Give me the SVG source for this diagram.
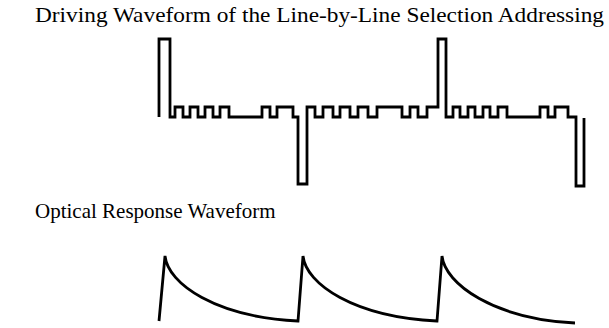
<svg xmlns="http://www.w3.org/2000/svg" width="609" height="328" viewBox="0 0 609 328">
<style>
.t{font-family:"Liberation Serif","Times New Roman",serif;font-size:21px;fill:#000}
.w{fill:none;stroke:#000;stroke-width:2.8;stroke-linejoin:miter;stroke-linecap:butt}
</style>
<rect width="609" height="328" fill="#fff"/>
<text class="t" x="35" y="22" textLength="569" lengthAdjust="spacingAndGlyphs">Driving Waveform of the Line-by-Line Selection Addressing</text>
<text class="t" x="35" y="218">Optical Response Waveform</text>
<g id="driving">
<path class="w" d="M159,117 V39 H170 V117 H175 V107 H183 V117 H190 V107 H198 V117 H205 V107 H213 V117 H220 V107 H229 V117 H262 V107 H270 V117 H277 V107 H293 V117 H298 V184 H307 V107 H315 V117 H323 V107 H333 V117 H340 V107 H350 V117 H358 V107 H368 V117 H377 V107 H402 V117 H410 V107 H418 V117 H427 V107 H438 V39 H446 V117 H453 V107 H460 V117 H468 V107 H475 V117 H483 V107 H490 V117 H498 V107 H507 V117 H540 V107 H548 V117 H555 V107 H568 V117 H576 V186 H584 V118"/>
</g>
<g id="optical">
<path class="w" d="M159,321 L165,256 C168,284 216,317 298,321 L303,256 C306,284 354,317 437,321 L442,256 C445,284 494,319 575,323"/>
</g>
</svg>
